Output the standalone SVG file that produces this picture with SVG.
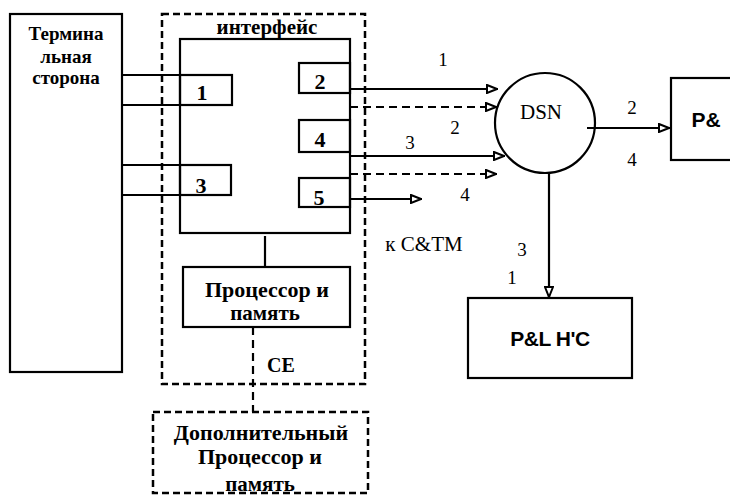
<svg xmlns="http://www.w3.org/2000/svg" width="730" height="496" viewBox="0 0 730 496">
<defs>
<marker id="ah" viewBox="0 0 12 10" refX="12" refY="5" markerWidth="12" markerHeight="10" markerUnits="userSpaceOnUse" orient="auto">
<polygon points="1,1 11,5 1,9" fill="#fff" stroke="#000" stroke-width="2"/>
</marker>
<style>
.box{fill:none;stroke:#000;stroke-width:2.2}
.dbox{fill:none;stroke:#000;stroke-width:2.5;stroke-dasharray:7 4}
.ln{fill:none;stroke:#000;stroke-width:2.2}
.dl{fill:none;stroke:#000;stroke-width:2.2;stroke-dasharray:8 5}
.t{font-family:"Liberation Serif",serif;font-weight:bold;font-size:21px;text-anchor:middle;fill:#000}
.n{font-family:"Liberation Serif",serif;font-size:19px;text-anchor:middle;fill:#000}
.b{font-family:"Liberation Serif",serif;font-weight:bold;font-size:22px;text-anchor:middle;fill:#000}
.s{font-family:"Liberation Sans",Arial,sans-serif;font-weight:bold;font-size:21px;text-anchor:middle;fill:#000}
</style>
</defs>
<rect width="730" height="496" fill="#fff"/>

<g id="terminal">
<rect class="box" x="10" y="14" width="112" height="358"/>
<text class="t" x="66" y="40" style="font-size:19px">Термина</text>
<text class="t" x="66" y="63" style="font-size:19px">льная</text>
<text class="t" x="66" y="84" style="font-size:19px">сторона</text>
</g>

<g id="ce">
<rect class="dbox" x="162" y="14" width="203" height="370"/>
<text class="t" x="267" y="34">интерфейс</text>
<text class="t" x="281" y="372" style="font-size:20px">CE</text>
</g>

<g id="interface">
<rect class="box" x="180" y="39" width="170" height="194"/>
</g>

<g id="port1"><rect class="box" x="180" y="75" width="52" height="30"/><text class="b" x="202" y="100">1</text></g>
<g id="port3"><rect class="box" x="180" y="165" width="51" height="30"/><text class="b" x="201" y="193">3</text></g>
<g id="port2"><rect class="box" x="299" y="63" width="51" height="30"/><text class="b" x="320" y="89">2</text></g>
<g id="port4"><rect class="box" x="299" y="120" width="51" height="32"/><text class="b" x="320" y="147">4</text></g>
<g id="port5"><rect class="box" x="299" y="178" width="51" height="29"/><text class="b" x="319" y="205">5</text></g>

<g id="processor">
<rect class="box" x="183" y="267" width="167" height="60"/>
<text class="t" x="267" y="297" style="font-size:22px">Процессор и</text>
<text class="t" x="265" y="320">память</text>
</g>

<g id="extra">
<rect class="dbox" x="153" y="412" width="215" height="81"/>
<text class="t" x="261" y="440" style="font-size:22px">Дополнительный</text>
<text class="t" x="260" y="464" style="font-size:22px">Процессор и</text>
<text class="t" x="260" y="491">память</text>
</g>

<g id="dsn">
<circle class="box" cx="545" cy="123" r="50"/>
<text class="n" x="541" y="119" style="font-size:21px">DSN</text>
</g>

<g id="pl-right">
<rect class="box" x="671" y="78" width="70" height="82"/>
<text class="s" x="706" y="127" text-anchor="start">P&amp;</text>
</g>

<g id="pl-hc">
<rect class="box" x="468" y="298" width="164" height="80"/>
<text class="s" x="550" y="346" letter-spacing="-0.5">P&amp;L H'C</text>
</g>

<g id="connectors">
<line class="ln" x1="122" y1="75" x2="180" y2="75"/>
<line class="ln" x1="122" y1="105" x2="180" y2="105"/>
<line class="ln" x1="122" y1="165" x2="180" y2="165"/>
<line class="ln" x1="122" y1="195" x2="180" y2="195"/>
<line class="ln" x1="350" y1="89" x2="498" y2="89" marker-end="url(#ah)"/>
<line class="dl" x1="350" y1="107" x2="497" y2="107" marker-end="url(#ah)"/>
<line class="ln" x1="350" y1="156" x2="505" y2="156" marker-end="url(#ah)"/>
<line class="dl" x1="350" y1="174" x2="497" y2="174" marker-end="url(#ah)"/>
<line class="ln" x1="350" y1="199" x2="422" y2="199" marker-end="url(#ah)"/>
<line class="ln" x1="587" y1="128" x2="670" y2="128" marker-end="url(#ah)"/>
<line class="ln" x1="549" y1="173" x2="549" y2="298" marker-end="url(#ah)"/>
<line class="ln" x1="265" y1="236" x2="265" y2="267"/>
<line class="dl" x1="253" y1="327" x2="253" y2="412"/>
<text class="n" x="443" y="66">1</text>
<text class="n" x="455" y="134">2</text>
<text class="n" x="410" y="149">3</text>
<text class="n" x="465" y="201">4</text>
<text class="n" x="424" y="251" style="font-size:21px">к C&amp;TM</text>
<text class="n" x="632" y="114">2</text>
<text class="n" x="632" y="166">4</text>
<text class="n" x="522" y="256">3</text>
<text class="n" x="512" y="284">1</text>
</g>
</svg>
